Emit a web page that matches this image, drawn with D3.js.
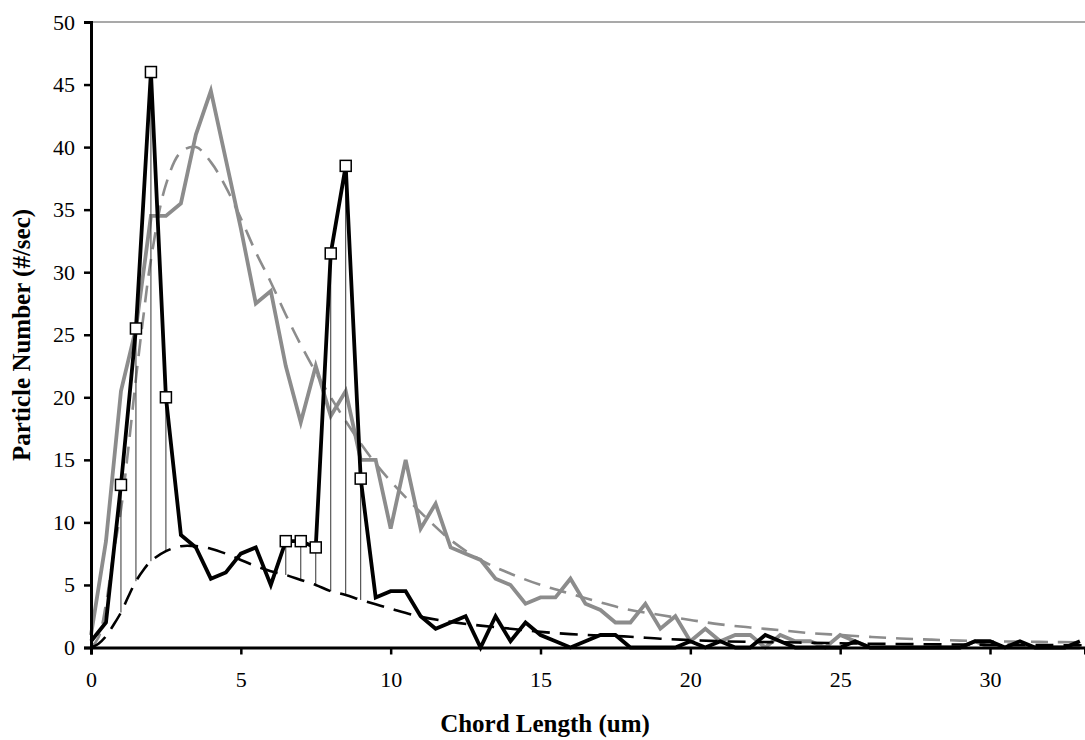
<!DOCTYPE html>
<html>
<head>
<meta charset="utf-8">
<script src="https://cdn.jsdelivr.net/npm/d3@7"></script>
<style>
  html, body { margin: 0; padding: 0; background: #fff; }
  svg { display: block; }
  text { font-family: "Liberation Serif", "Times New Roman", serif; fill: #000; }
</style>
</head>
<body>
<svg id="chart" width="1085" height="740"></svg>
<script>
// ---- data ----
const chordLength = [0,0.5,1,1.5,2,2.5,3,3.5,4,4.5,5,5.5,6,6.5,7,7.5,8,8.5,9,9.5,10,10.5,11,11.5,12,12.5,13,13.5,14,14.5,15,15.5,16,16.5,17,17.5,18,18.5,19,19.5,20,20.5,21,21.5,22,22.5,23,23.5,24,24.5,25,25.5,26,26.5,27,27.5,28,28.5,29,29.5,30,30.5,31,31.5,32,32.5,33];
const blackSeries = [0.5,2,13,25.5,46,20,9,8,5.5,6,7.5,8,5,8.5,8.5,8,31.5,38.5,13.5,4,4.5,4.5,2.5,1.5,2,2.5,0,2.5,0.5,2,1,0.5,0,0.5,1,1,0,0,0,0,0.5,0,0.5,0,0,1,0.5,0,0,0,0,0.5,0,0,0,0,0,0,0,0.5,0.5,0,0.5,0,0,0,0.5];
const graySeries = [1,8.5,20.5,25.5,34.5,34.5,35.5,41,44.5,39,33.5,27.5,28.5,22.5,18,22.5,18.5,20.5,15,15,9.5,15,9.5,11.5,8,7.5,7,5.5,5,3.5,4,4,5.5,3.5,3,2,2,3.5,1.5,2.5,0.5,1.5,0.5,1,1,0,1,0.5,0.5,0,1,0.5,0,0,0,0,0,0,0,0.5,0,0,0,0,0,0,0];
const markedX = [1,1.5,2,2.5,6.5,7,7.5,8,8.5,9];

const fitX = [0,0.25,0.5,0.75,1,1.25,1.5,1.75,2,2.5,3,3.5,4,4.5,5,5.5,6,6.5,7,7.5,8,8.5,9,9.5,10,11,12,13,14,15,16,17,18,19,20,21,22,23,24,25,26,27,28,29,30,31,32,33,33.2];
const grayFit = [0,0.8,3.5,7.5,11,16,21.5,26.5,31,37,39.6,40,38.8,36.8,34.3,31.6,29.2,26.6,24.2,22,20,18.1,16.3,14.7,13.3,10.8,8.6,7.0,5.9,5.0,4.3,3.6,3.0,2.6,2.2,1.85,1.6,1.38,1.15,1.0,0.85,0.72,0.63,0.55,0.5,0.47,0.44,0.41,0.4];
const blackFit = [0,0.3,0.9,1.8,2.8,4.1,5.3,6.2,6.9,7.7,8.1,8.1,7.9,7.5,7.0,6.5,6.1,5.8,5.4,5.0,4.5,4.2,3.8,3.45,3.1,2.45,2.05,1.75,1.5,1.25,1.07,0.95,0.86,0.7,0.6,0.5,0.45,0.42,0.38,0.34,0.3,0.28,0.26,0.24,0.22,0.2,0.19,0.18,0.18];

const xTicks = [0,5,10,15,20,25,30];
const yTicks = [0,5,10,15,20,25,30,35,40,45,50];
const xTitle = "Chord Length (um)";
const yTitle = "Particle Number (#/sec)";

// ---- layout ----
const svg = d3.select("#chart");
const plotL = 91, plotR = 1085, plotT = 22, plotB = 647.5;
const x = d3.scaleLinear().domain([0, 33.17]).range([plotL, plotR]);
const y = d3.scaleLinear().domain([0, 50]).range([plotB, plotT]);

// top border
svg.append("line").attr("x1", plotL).attr("x2", plotR).attr("y1", y(50)).attr("y2", y(50))
  .attr("stroke", "#8c8c8c").attr("stroke-width", 1.5);

const pts = (xs, ys) => xs.map((d, i) => [d, ys[i]]);
const line = d3.line().x(d => x(d[0])).y(d => y(d[1]));
const smooth = d3.line().x(d => x(d[0])).y(d => y(d[1])).curve(d3.curveCatmullRom.alpha(0.5));

// gray fit (dashed)
svg.append("path").attr("d", smooth(pts(fitX, grayFit)))
  .attr("fill", "none").attr("stroke", "#8c8c8c").attr("stroke-width", 2.6)
  .attr("stroke-dasharray", "17,10");

// gray series
svg.append("path").attr("d", line(pts(chordLength, graySeries)))
  .attr("fill", "none").attr("stroke", "#8c8c8c").attr("stroke-width", 3.8)
  .attr("stroke-linejoin", "miter");

// drop lines between marked points and black fit
const fitLookup = new Map(fitX.map((d, i) => [d, blackFit[i]]));
const valLookup = new Map(chordLength.map((d, i) => [d, blackSeries[i]]));
svg.append("g").selectAll("line").data(markedX).join("line")
  .attr("x1", d => x(d)).attr("x2", d => x(d))
  .attr("y1", d => y(valLookup.get(d))).attr("y2", d => y(fitLookup.get(d)))
  .attr("stroke", "#333").attr("stroke-width", 1);

// black series
svg.append("path").attr("d", line(pts(chordLength, blackSeries)))
  .attr("fill", "none").attr("stroke", "#000").attr("stroke-width", 3.8)
  .attr("stroke-linejoin", "miter");

// black fit (dashed)
svg.append("path").attr("d", smooth(pts(fitX, blackFit)))
  .attr("fill", "none").attr("stroke", "#000").attr("stroke-width", 2.6)
  .attr("stroke-dasharray", "18,10");

// markers
svg.append("g").selectAll("rect").data(markedX).join("rect")
  .attr("x", d => x(d) - 5.5).attr("y", d => y(valLookup.get(d)) - 5.5)
  .attr("width", 11).attr("height", 11)
  .attr("fill", "#fff").attr("stroke", "#000").attr("stroke-width", 1.5);

// axes
const yAxis = d3.axisLeft(y).tickValues(yTicks).tickSize(7).tickPadding(9).tickFormat(d3.format("d"));
const gy = svg.append("g").attr("transform", `translate(${plotL},0)`).call(yAxis);
gy.select(".domain").attr("stroke", "#000").attr("stroke-width", 3);
gy.selectAll(".tick line").attr("stroke", "#000").attr("stroke-width", 2.5);
gy.selectAll(".tick text").attr("font-size", 22).attr("font-family", "Liberation Serif, serif");

const xAxis = d3.axisBottom(x).tickValues(xTicks).tickSize(7).tickPadding(17).tickFormat(d3.format("d"));
const gx = svg.append("g").attr("transform", `translate(0,${plotB})`).call(xAxis);
gx.select(".domain").attr("stroke", "#000").attr("stroke-width", 3);
gx.selectAll(".tick line").attr("stroke", "#000").attr("stroke-width", 2.5);
gx.selectAll(".tick text").attr("font-size", 22).attr("font-family", "Liberation Serif, serif");

// titles
svg.append("text").attr("x", 545).attr("y", 732).attr("text-anchor", "middle")
  .attr("font-size", 25).attr("font-weight", "bold").text(xTitle);
svg.append("text").attr("transform", "translate(30,335) rotate(-90)").attr("text-anchor", "middle")
  .attr("font-size", 25).attr("font-weight", "bold").text(yTitle);
</script>
</body>
</html>
